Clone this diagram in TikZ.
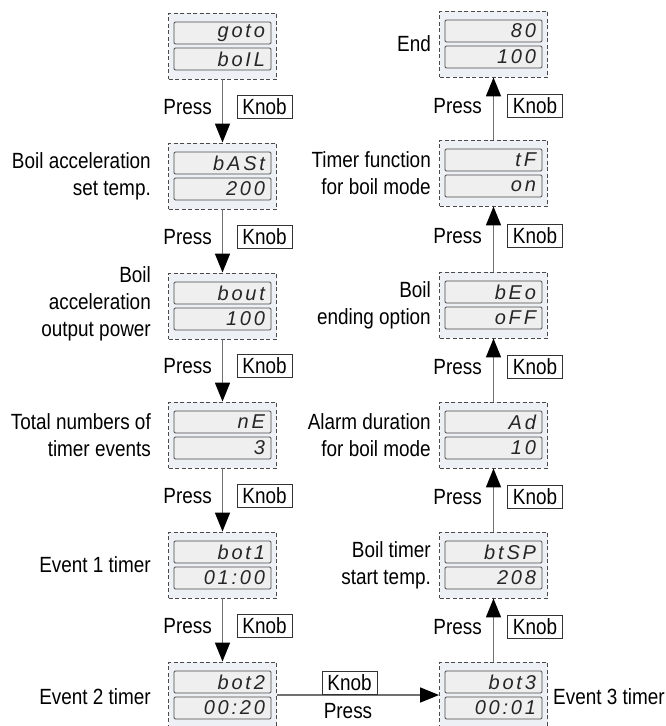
\documentclass[tikz,border=0pt]{standalone}
\usepackage{fontspec}
\setmainfont{Liberation Sans}[FakeStretch=0.86]
\newfontfamily\segfont{Liberation Sans}[LetterSpace=14]
\usetikzlibrary{arrows.meta,calc}
\definecolor{panelfill}{HTML}{EDF0F5}
\definecolor{dispfill}{HTML}{EFEFEF}
\definecolor{displine}{HTML}{4A4A4A}
\definecolor{arrowgray}{HTML}{707070}
\tikzset{
 panel/.style={draw=displine, dash pattern=on 4pt off 2.5pt, fill=panelfill, minimum width=108pt, minimum height=66pt, inner sep=0pt, line width=0.9pt},
 disp/.style={draw=displine, fill=dispfill, rounded corners=1.2pt, minimum width=97pt, minimum height=22pt, text width=85pt, inner xsep=6pt, inner ysep=0pt, align=right, font=\segfont\itshape\fontsize{20}{20}\selectfont, text=black!85, line width=0.9pt},
 lbl/.style={font=\fontsize{22}{27}\selectfont, inner sep=0pt},
 knob/.style={draw=black!80, line width=0.8pt, font=\fontsize{22}{22}\selectfont, minimum width=55pt, minimum height=23pt, inner sep=1pt},
 flow/.style={draw=arrowgray, line width=1.6pt, -{Triangle[length=19pt,width=15pt,color=black]}},
}
\newcommand\mkpanel[5]{%
  \node[panel] (#1) at (#2,#3) {};
  \node[disp] (#1a) at ([yshift=13pt]#1.center) {#4};
  \node[disp] (#1b) at ([yshift=-13pt]#1.center) {#5};
}
\begin{document}
\begin{tikzpicture}[x=1pt,y=1pt]
\useasboundingbox (0,0) rectangle (666,-726);
% left column panels
\mkpanel{L1}{222.5}{-46}{goto}{boIL}
\mkpanel{L2}{222.5}{-176}{bASt}{200}
\mkpanel{L3}{222.5}{-306}{bout}{100}
\mkpanel{L4}{222.5}{-435}{nE}{3}
\mkpanel{L5}{222.5}{-565}{bot1}{01:00}
\mkpanel{L6}{222.5}{-695}{bot2}{00:20}
% right column panels
\mkpanel{R1}{493.5}{-44}{80}{100}
\mkpanel{R2}{493.5}{-173}{tF}{on}
\mkpanel{R3}{493.5}{-305}{bEo}{oFF}
\mkpanel{R4}{493.5}{-435}{Ad}{10}
\mkpanel{R5}{493.5}{-565}{btSP}{208}
\mkpanel{R6}{493.5}{-695}{bot3}{00:01}
% arrows
\draw[flow] (L1) -- (L2);
\draw[flow] (L2) -- (L3);
\draw[flow] (L3) -- (L4);
\draw[flow] (L4) -- (L5);
\draw[flow] (L5) -- (L6);
\draw[flow] (L6) -- (R6);
\draw[flow] (R6) -- (R5);
\draw[flow] (R5) -- (R4);
\draw[flow] (R4) -- (R3);
\draw[flow] (R3) -- (R2);
\draw[flow] (R2) -- (R1);
% press / knob labels, left column
\node[lbl, anchor=east] (Lp1) at (212,-107) {Press};
\node[knob] (Lk1) at (264.5,-107) {Knob};
\node[lbl, anchor=east] (Lp2) at (212,-237) {Press};
\node[knob] (Lk2) at (264.5,-237) {Knob};
\node[lbl, anchor=east] (Lp3) at (212,-366) {Press};
\node[knob] (Lk3) at (264.5,-366) {Knob};
\node[lbl, anchor=east] (Lp4) at (212,-496) {Press};
\node[knob] (Lk4) at (264.5,-496) {Knob};
\node[lbl, anchor=east] (Lp5) at (212,-626) {Press};
\node[knob] (Lk5) at (264.5,-626) {Knob};
% right column
\node[lbl, anchor=east] (Rp1) at (482,-106) {Press};
\node[knob] (Rk1) at (535,-106) {Knob};
\node[lbl, anchor=east] (Rp2) at (482,-236) {Press};
\node[knob] (Rk2) at (535,-236) {Knob};
\node[lbl, anchor=east] (Rp3) at (482,-367) {Press};
\node[knob] (Rk3) at (535,-367) {Knob};
\node[lbl, anchor=east] (Rp4) at (482,-497) {Press};
\node[knob] (Rk4) at (535,-497) {Knob};
\node[lbl, anchor=east] (Rp5) at (482,-627) {Press};
\node[knob] (Rk5) at (535,-627) {Knob};
% bottom horizontal
\node[knob] (Bk) at (349.5,-682.5) {Knob};
\node[lbl] (Bp) at (348,-711) {Press};
% descriptions, left
\node[lbl, anchor=east, align=right] (dL2) at (151,-176) {Boil acceleration\\set temp.};
\node[lbl, anchor=east, align=right] (dL3) at (151,-304) {Boil\\acceleration\\output power};
\node[lbl, anchor=east, align=right] (dL4) at (151,-435) {Total numbers of\\timer events};
\node[lbl, anchor=east] (dL5) at (151,-565) {Event 1 timer};
\node[lbl, anchor=east] (dL6) at (151,-697) {Event 2 timer};
% descriptions, right
\node[lbl, anchor=east] (dR1) at (431,-44) {End};
\node[lbl, anchor=east, align=right] (dR2) at (431,-173) {Timer function\\for boil mode};
\node[lbl, anchor=east, align=right] (dR3) at (431,-305) {Boil\\ending option};
\node[lbl, anchor=east, align=right] (dR4) at (431,-435) {Alarm duration\\for boil mode};
\node[lbl, anchor=east, align=right] (dR5) at (431,-565) {Boil timer\\start temp.};
\node[lbl, anchor=west] (dR6) at (553,-697) {Event 3 timer};
\end{tikzpicture}
\end{document}
